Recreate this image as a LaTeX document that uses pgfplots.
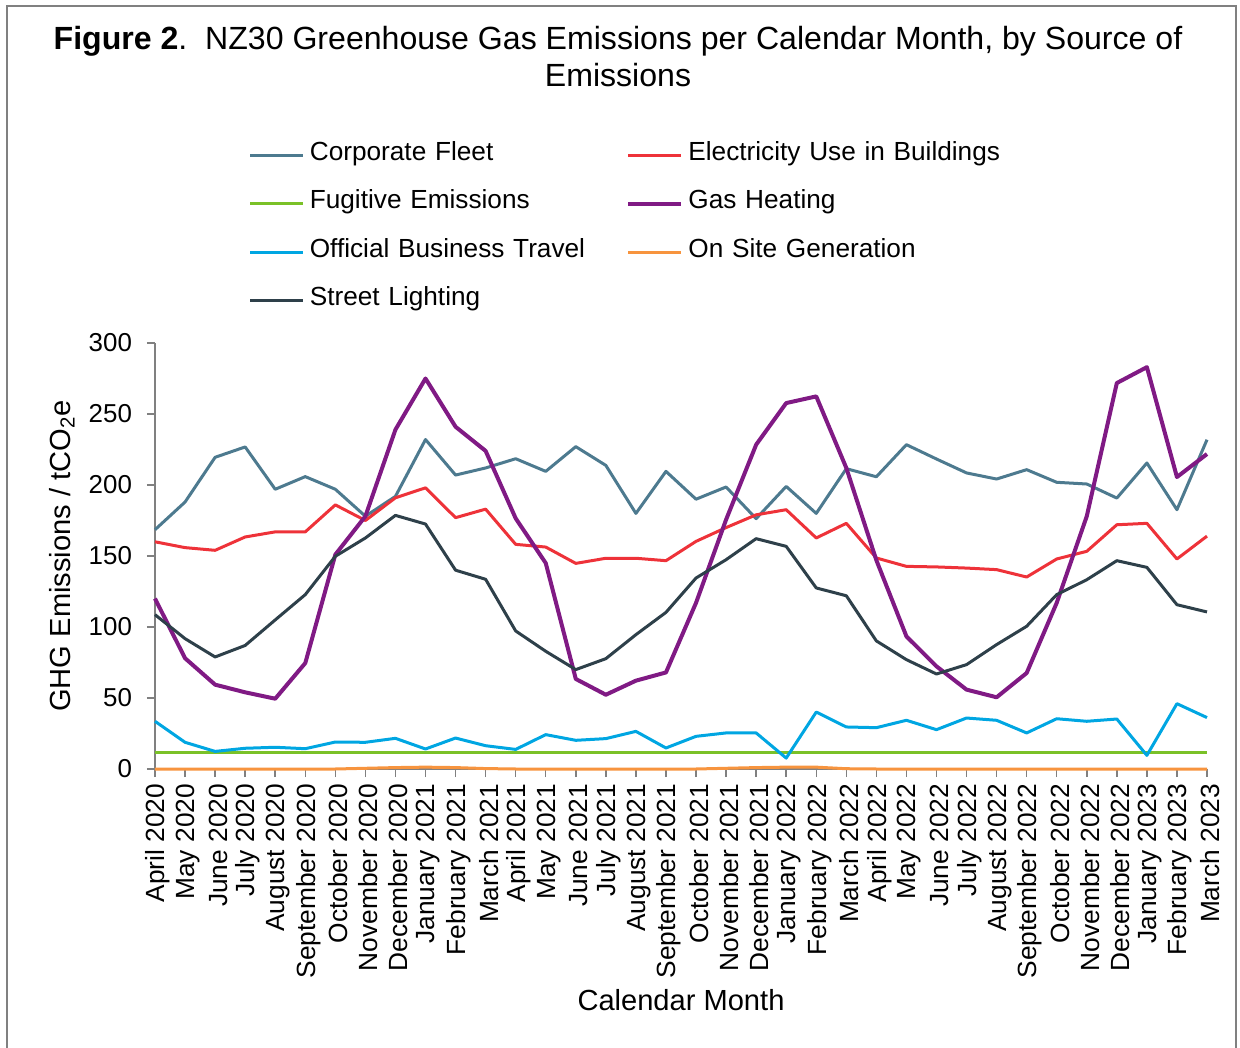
\documentclass[border=0pt]{standalone}
\usepackage{fontspec}
\setmainfont{Liberation Sans}
\usepackage{pgfplots}
\usepackage{pgfplotstable}
\pgfplotsset{compat=1.18}
\definecolor{cfleet}{RGB}{77,122,143}
\definecolor{elec}{RGB}{238,50,57}
\definecolor{fug}{RGB}{122,193,40}
\definecolor{gas}{RGB}{128,26,132}
\definecolor{obt}{RGB}{0,166,226}
\definecolor{osg}{RGB}{247,148,62}
\definecolor{street}{RGB}{46,64,74}
\definecolor{axgrey}{RGB}{128,128,128}

\pgfplotstableread{
idx CF EL FU GH OBT OSG SL
0 168.5 160.0 11.3 120.0 33.6 0 108.7
1 188.0 155.9 11.3 78.0 18.8 0 91.8
2 219.5 154.0 11.3 59.4 12.4 0 78.9
3 226.8 163.4 11.3 54.0 14.6 0 87.0
4 197.0 167.0 11.3 49.5 15.3 0 105.0
5 205.9 167.0 11.3 74.6 14.3 0 122.8
6 197.0 186.0 11.3 151.0 19.0 0 149.8
7 178.0 175.0 11.3 178.0 18.8 0.5 162.7
8 192.0 191.0 11.3 239.0 21.6 1.0 178.6
9 232.0 198.0 11.3 275.0 14.1 1.3 172.5
10 207.0 177.0 11.3 241.0 21.8 1.0 140.0
11 212.0 183.0 11.3 224.0 16.4 0.3 133.6
12 218.5 158.2 11.3 176.5 13.8 0 97.2
13 209.6 156.3 11.3 145.0 24.2 0 82.9
14 227.0 144.8 11.3 63.4 20.2 0 70.0
15 213.8 148.4 11.3 52.3 21.4 0 77.7
16 180.0 148.4 11.3 62.2 26.5 0 94.6
17 209.6 146.7 11.3 68.0 14.8 0 110.3
18 190.0 160.3 11.3 117.0 23.0 0 134.5
19 198.6 170.0 11.3 175.6 25.4 0.5 147.4
20 176.3 179.0 11.3 228.4 25.4 1.0 162.2
21 199.0 182.6 11.3 257.7 7.7 1.3 156.8
22 180.0 162.7 11.3 262.4 40.1 1.3 127.5
23 211.5 173.0 11.3 212.0 29.6 0.2 122.0
24 205.8 148.6 11.3 147.0 29.1 0 90.2
25 228.4 142.7 11.3 93.4 34.3 0 77.0
26 218.3 142.3 11.3 72.3 27.7 0 66.9
27 208.5 141.5 11.3 55.9 35.9 0 73.5
28 204.2 140.4 11.3 50.5 34.3 0 87.6
29 210.8 135.2 11.3 67.6 25.4 0 100.5
30 201.9 147.9 11.3 117.0 35.4 0 122.8
31 200.7 153.3 11.3 178.0 33.6 0 133.3
32 190.8 172.0 11.3 271.8 35.2 0 146.7
33 215.5 173.0 11.3 283.0 9.6 0 142.0
34 182.6 147.9 11.3 205.6 46.0 0 115.7
35 231.9 164.0 11.3 221.8 36.2 0 110.6
}\datatable

\begin{document}
\begin{tikzpicture}
\useasboundingbox (-77.5bp,-139.5bp) rectangle (542.5bp,384.5bp);
\draw[axgrey, line width=1bp] (-74bp,-150bp) -- (-74bp,381.5bp) -- (540.5bp,381.5bp) -- (540.5bp,-150bp);
\node[align=center, font=\fontsize{16.1}{18.6}\selectfont] at (231.5bp,356bp)
  {\textbf{Figure 2}.\ \ NZ30 Greenhouse Gas Emissions per Calendar Month, by Source of\\Emissions};
\begin{axis}[
  at={(0,0)}, anchor=south west,
  scale only axis, width=526bp, height=213bp,
  xmin=0, xmax=35, ymin=0, ymax=300,
  ytick={0,50,...,300},
  xtick={0,...,35},
  xticklabels={April 2020, May 2020, June 2020, July 2020, August 2020, September 2020, October 2020, November 2020, December 2020, January 2021, February 2021, March 2021, April 2021, May 2021, June 2021, July 2021, August 2021, September 2021, October 2021, November 2021, December 2021, January 2022, February 2022, March 2022, April 2022, May 2022, June 2022, July 2022, August 2022, September 2022, October 2022, November 2022, December 2022, January 2023, February 2023, March 2023},
  x tick label style={rotate=90, anchor=east, yshift=-1.5bp, font=\fontsize{13.2}{15}\selectfont},
  y tick label style={xshift=-4bp, font=\fontsize{13}{15}\selectfont},
  /pgf/number format/assume math mode=true,
  axis x line*=bottom, axis y line*=left,
  axis line style={axgrey, line width=0.75bp, -},
  tick style={axgrey, line width=0.75bp},
  tick align=outside, major tick length=4bp,
  clip=false,
  xlabel={Calendar Month},
  ylabel={GHG Emissions / tCO\textsubscript{2}e},
  every axis x label/.style={at={(axis description cs:0.5,-0.542)}, anchor=center, font=\fontsize{14.6}{17}\selectfont},
  every axis y label/.style={at={(axis description cs:-0.0884,0.5)}, rotate=90, anchor=center, font=\fontsize{14.6}{17}\selectfont},
  legend columns=2,
  legend cell align=left,
  legend style={draw=none, fill=none, at={(0.0892,1.4735)}, anchor=north west, inner sep=0pt, outer sep=0pt,
    row sep=12.05bp, column sep=0pt,
    nodes={text width=155.8bp, align=left, inner xsep=2.5bp, inner ysep=0pt, text height=9.4bp, text depth=2.8bp, font=\fontsize{13.15}{15}\selectfont}},
  legend image code/.code={\draw[#1] (0bp,-1bp) -- (26.5bp,-1bp);},
  every axis plot/.append style={line width=1.5bp, line join=round, no markers},
]
\addplot[cfleet] table[x=idx, y=CF] {\datatable};
\addlegendentry{\mbox{Corporate Fleet}}
\addplot[elec] table[x=idx, y=EL] {\datatable};
\addlegendentry{\mbox{Electricity Use in Buildings}}
\addplot[fug] table[x=idx, y=FU] {\datatable};
\addlegendentry{\mbox{Fugitive Emissions}}
\addplot[gas, line width=2bp] table[x=idx, y=GH] {\datatable};
\addlegendentry{\mbox{Gas Heating}}
\addplot[obt] table[x=idx, y=OBT] {\datatable};
\addlegendentry{\mbox{Official Business Travel}}
\addplot[osg] table[x=idx, y=OSG] {\datatable};
\addlegendentry{\mbox{On Site Generation}}
\addplot[street] table[x=idx, y=SL] {\datatable};
\addlegendentry{\mbox{Street Lighting}}
\end{axis}
\end{tikzpicture}
\end{document}
